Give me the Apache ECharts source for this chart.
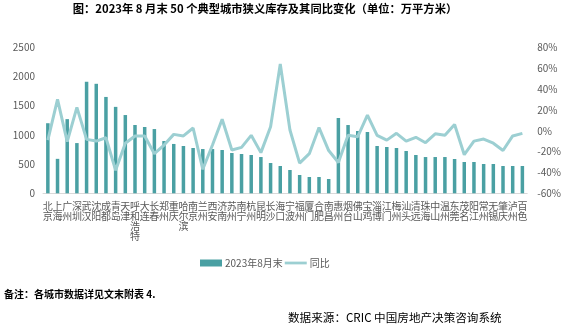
<!DOCTYPE html>
<html><head><meta charset="utf-8">
<script src="https://cdn.jsdelivr.net/npm/echarts@6/dist/echarts.min.js"></script>
<style>html,body{margin:0;padding:0;background:#fff}#c{width:564px;height:331px}</style>
</head><body><div id="c"></div>
<script>
var cities = ['北京','上海','广州','深圳','武汉','沈阳','成都','青岛','天津','呼和浩特','大连','长春','郑州','重庆','哈尔滨','南京','兰州','西安','济南','苏州','南宁','杭州','昆明','长沙','海口','宁波','福州','厦门','合肥','南昌','惠州','烟台','佛山','宝鸡','淄博','江门','梅州','汕头','清远','珠海','中山','温州','东莞','茂名','阳江','常州','无锡','肇庆','泸州','百色'];
var stock = [1200,590,1270,860,1910,1875,1650,1480,1340,1170,1135,1100,895,845,810,776,758,758,741,690,673,656,621,519,467,399,313,279,279,245,1289,1169,1067,1050,810,793,776,724,656,621,621,621,587,536,536,502,502,467,467,467];
var yoy = [-9,30,-10.5,22.4,-8.3,-9.9,-6.7,-38,-12,-5,-5,-22,-13.7,-3.5,-5,2.6,-37,-13.7,11,-18.5,-16,-4.4,-21,3.8,64,0.7,-31,-22,3,-19,-30.5,-4.4,-5.7,15,-4.4,-9,-2.5,-10,-6.3,-11.5,-3,-4.4,6,-23,-10,-8,-12,-19,-5,-2.5];
var leftTicks = [0,500,1000,1500,2000,2500];
var rightTicks = [-60,-40,-20,0,20,40,60,80];
var seriesNames = ['2023年8月末','同比'];
var titleText = '图：2023年 8 月末 50 个典型城市狭义库存及其同比变化（单位：万平方米）';
var noteText = '备注：各城市数据详见文末附表 4.';
var sourceText = '数据来源：CRIC 中国房地产决策咨询系统';

var chart = echarts.init(document.getElementById('c'), null, {renderer:'canvas'});
var lab = {color:'#595959', fontSize:10, fontFamily:'"Noto Sans CJK SC", sans-serif'};
chart.setOption({
  animation:false,
  graphic:[
    {type:'text', x:265, y:3, style:{text:titleText, align:'center', font:'bold 11.3px "Noto Sans CJK SC", sans-serif', fill:'#000'}},
    {type:'text', left:4, top:289, style:{text:noteText, font:'bold 10px "Noto Sans CJK SC", sans-serif', fill:'#000'}},
    {type:'text', left:288, top:312, style:{text:sourceText, font:'11.6px "Noto Sans CJK SC", sans-serif', fill:'#000'}}
  ],
  legend:{
    data:[{name:seriesNames[0], icon:'rect'},{name:seriesNames[1], icon:'path://M0,0 L24,0 L24,3 L0,3 Z'}],
    left:195, top:253, itemWidth:22, itemHeight:7, itemGap:2,
    textStyle:{color:'#595959', fontSize:10, fontFamily:'"Noto Sans CJK SC", sans-serif', padding:[0,0,0,-2]}
  },
  grid:{left:43, right:35, top:47.3, bottom:137.7},
  xAxis:{
    type:'category', data:cities,
    axisLine:{lineStyle:{color:'#d9d9d9', width:1}},
    axisTick:{show:false},
    axisLabel:Object.assign({interval:0, margin:8, lineHeight:10, formatter:function(v){return v.split('').join('\n');}}, lab)
  },
  yAxis:[
    {type:'value', min:0, max:2500, interval:500, position:'left',
     splitLine:{show:false}, axisLine:{show:false}, axisTick:{show:false},
     axisLabel:Object.assign({margin:8, formatter:function(v){return String(v);}}, lab)},
    {type:'value', min:-60, max:80, interval:20, position:'right',
     splitLine:{show:false}, axisLine:{show:false}, axisTick:{show:false},
     axisLabel:Object.assign({margin:10, formatter:'{value}%'}, lab)}
  ],
  series:[
    {name:seriesNames[0], type:'bar', data:stock, barWidth:3.5, itemStyle:{color:'#4aa0a3'}},
    {name:seriesNames[1], type:'line', yAxisIndex:1, data:yoy, symbol:'none', lineStyle:{color:'#9ccfd2', width:3}, itemStyle:{color:'#9ccfd2'}}
  ]
});
</script></body></html>
